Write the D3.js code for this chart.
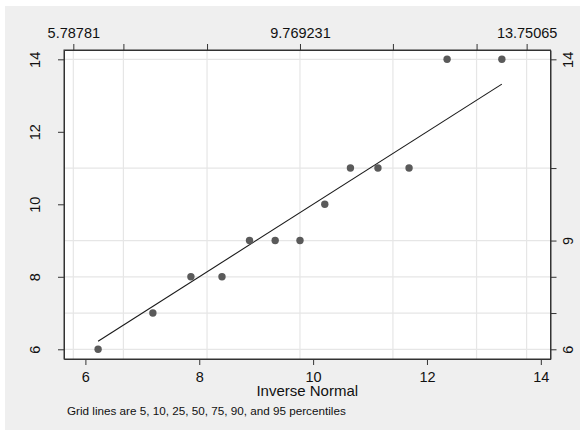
<!DOCTYPE html>
<html>
<head>
<meta charset="utf-8">
<script src="https://cdn.jsdelivr.net/npm/d3@7"></script>
<style>
  body { margin: 0; background: #fff; }
  svg { display: block; font-family: "Liberation Sans", Arial, sans-serif; }
</style>
</head>
<body>
<div id="chart"></div>
<script>
// Data: sorted values and their inverse normal quantiles
const obsValues = [6, 7, 8, 8, 9, 9, 9, 10, 11, 11, 11, 14, 14];
const invNormal = [6.2227, 7.1851, 7.8531, 8.3994, 8.8830, 9.3335, 9.7692,
  10.2049, 10.6554, 11.1390, 11.6853, 12.3533, 13.3157];

// percentiles of the data (right axis / horizontal grid)
const yPctTicks = [6, 7, 8, 9, 11, 14];
const yPctLabels = [6, 9, 14];
// percentiles of the fitted normal (top axis / vertical grid)
const xPctTicks = [5.78781, 6.6673, 8.1367, 9.769231, 11.4018, 12.8712, 13.75065];
const xPctLabels = ["5.78781", "9.769231", "13.75065"];

const xTicks = [6, 8, 10, 12, 14];
const yTicks = [6, 8, 10, 12, 14];

const svgWidth = 580;
const svgHeight = 430;

const plot = { left: 64, right: 550.5, top: 50, bottom: 359 };

const svg = d3.select("#chart")
  .append("svg")
  .attr("width", svgWidth)
  .attr("height", svgHeight);

// outer background
svg.append("rect")
  .attr("x", 5).attr("y", 6)
  .attr("width", svgWidth - 5).attr("height", svgHeight - 6)
  .attr("fill", "#efefef");

const x = d3.scaleLinear().domain([5.624, 14.17]).range([plot.left, plot.right]);
const y = d3.scaleLinear().domain([5.732, 14.257]).range([plot.bottom, plot.top]);

// plot region
svg.append("rect")
  .attr("x", plot.left).attr("y", plot.top)
  .attr("width", plot.right - plot.left)
  .attr("height", plot.bottom - plot.top)
  .attr("fill", "#fff");

// grid lines at percentiles
svg.append("g").selectAll("line")
  .data(xPctTicks)
  .enter().append("line")
  .attr("x1", d => x(d)).attr("x2", d => x(d))
  .attr("y1", plot.top).attr("y2", plot.bottom)
  .attr("stroke", "#e6e6e6").attr("stroke-width", 1.2);

svg.append("g").selectAll("line")
  .data(yPctTicks)
  .enter().append("line")
  .attr("x1", plot.left).attr("x2", plot.right)
  .attr("y1", d => y(d)).attr("y2", d => y(d))
  .attr("stroke", "#e6e6e6").attr("stroke-width", 1.2);

// axes
const styleAxis = g => {
  g.selectAll(".domain").attr("stroke", "#333");
  g.selectAll(".tick line").attr("stroke", "#333");
  g.selectAll(".tick text").attr("font-size", 14.5).attr("fill", "#111");
};

svg.append("g")
  .attr("transform", `translate(0, ${plot.bottom})`)
  .call(d3.axisBottom(x).tickValues(xTicks).tickSize(6).tickSizeOuter(0).tickPadding(6.5))
  .call(styleAxis);

const topLabelAt = [xPctTicks[0], xPctTicks[3], xPctTicks[6]];
svg.append("g")
  .attr("transform", `translate(0, ${plot.top})`)
  .call(d3.axisTop(x).tickValues(xPctTicks).tickSize(6).tickSizeOuter(0).tickPadding(6)
    .tickFormat(d => { const i = topLabelAt.indexOf(d); return i >= 0 ? xPctLabels[i] : ""; }))
  .call(styleAxis);

const leftAxis = svg.append("g")
  .attr("transform", `translate(${plot.left}, 0)`)
  .call(d3.axisLeft(y).tickValues(yTicks).tickSize(6).tickSizeOuter(0))
  .call(styleAxis);
leftAxis.selectAll(".tick text")
  .attr("x", 0).attr("dy", 0)
  .attr("transform", "translate(-24.5, 0) rotate(-90)")
  .attr("text-anchor", "middle");

const rightAxis = svg.append("g")
  .attr("transform", `translate(${plot.right}, 0)`)
  .call(d3.axisRight(y).tickValues(yPctTicks).tickSize(6).tickSizeOuter(0)
    .tickFormat(d => yPctLabels.includes(d) ? d : ""))
  .call(styleAxis);
rightAxis.selectAll(".tick text")
  .attr("x", 0).attr("dy", 0)
  .attr("transform", "translate(22, 0) rotate(-90)")
  .attr("text-anchor", "middle");

// frame
svg.append("rect")
  .attr("x", plot.left).attr("y", plot.top)
  .attr("width", plot.right - plot.left)
  .attr("height", plot.bottom - plot.top)
  .attr("fill", "none")
  .attr("stroke", "#333");

// reference line y = x over the quantile range
const lineEnds = [invNormal[0], invNormal[invNormal.length - 1]];
svg.append("line")
  .attr("x1", x(lineEnds[0])).attr("y1", y(lineEnds[0]))
  .attr("x2", x(lineEnds[1])).attr("y2", y(lineEnds[1]))
  .attr("stroke", "#1a1a1a").attr("stroke-width", 1.1);

// points
svg.append("g").selectAll("circle")
  .data(obsValues)
  .enter().append("circle")
  .attr("cx", (d, i) => x(invNormal[i]))
  .attr("cy", d => y(d))
  .attr("r", 3.7)
  .attr("fill", "#5a5a5a");

// titles
svg.append("text")
  .attr("x", (plot.left + plot.right) / 2)
  .attr("y", 396)
  .attr("text-anchor", "middle")
  .attr("font-size", 15)
  .attr("fill", "#111")
  .text("Inverse Normal");

svg.append("text")
  .attr("x", 67)
  .attr("y", 415)
  .attr("font-size", 11.7)
  .attr("fill", "#111")
  .text("Grid lines are 5, 10, 25, 50, 75, 90, and 95 percentiles");
</script>
</body>
</html>
